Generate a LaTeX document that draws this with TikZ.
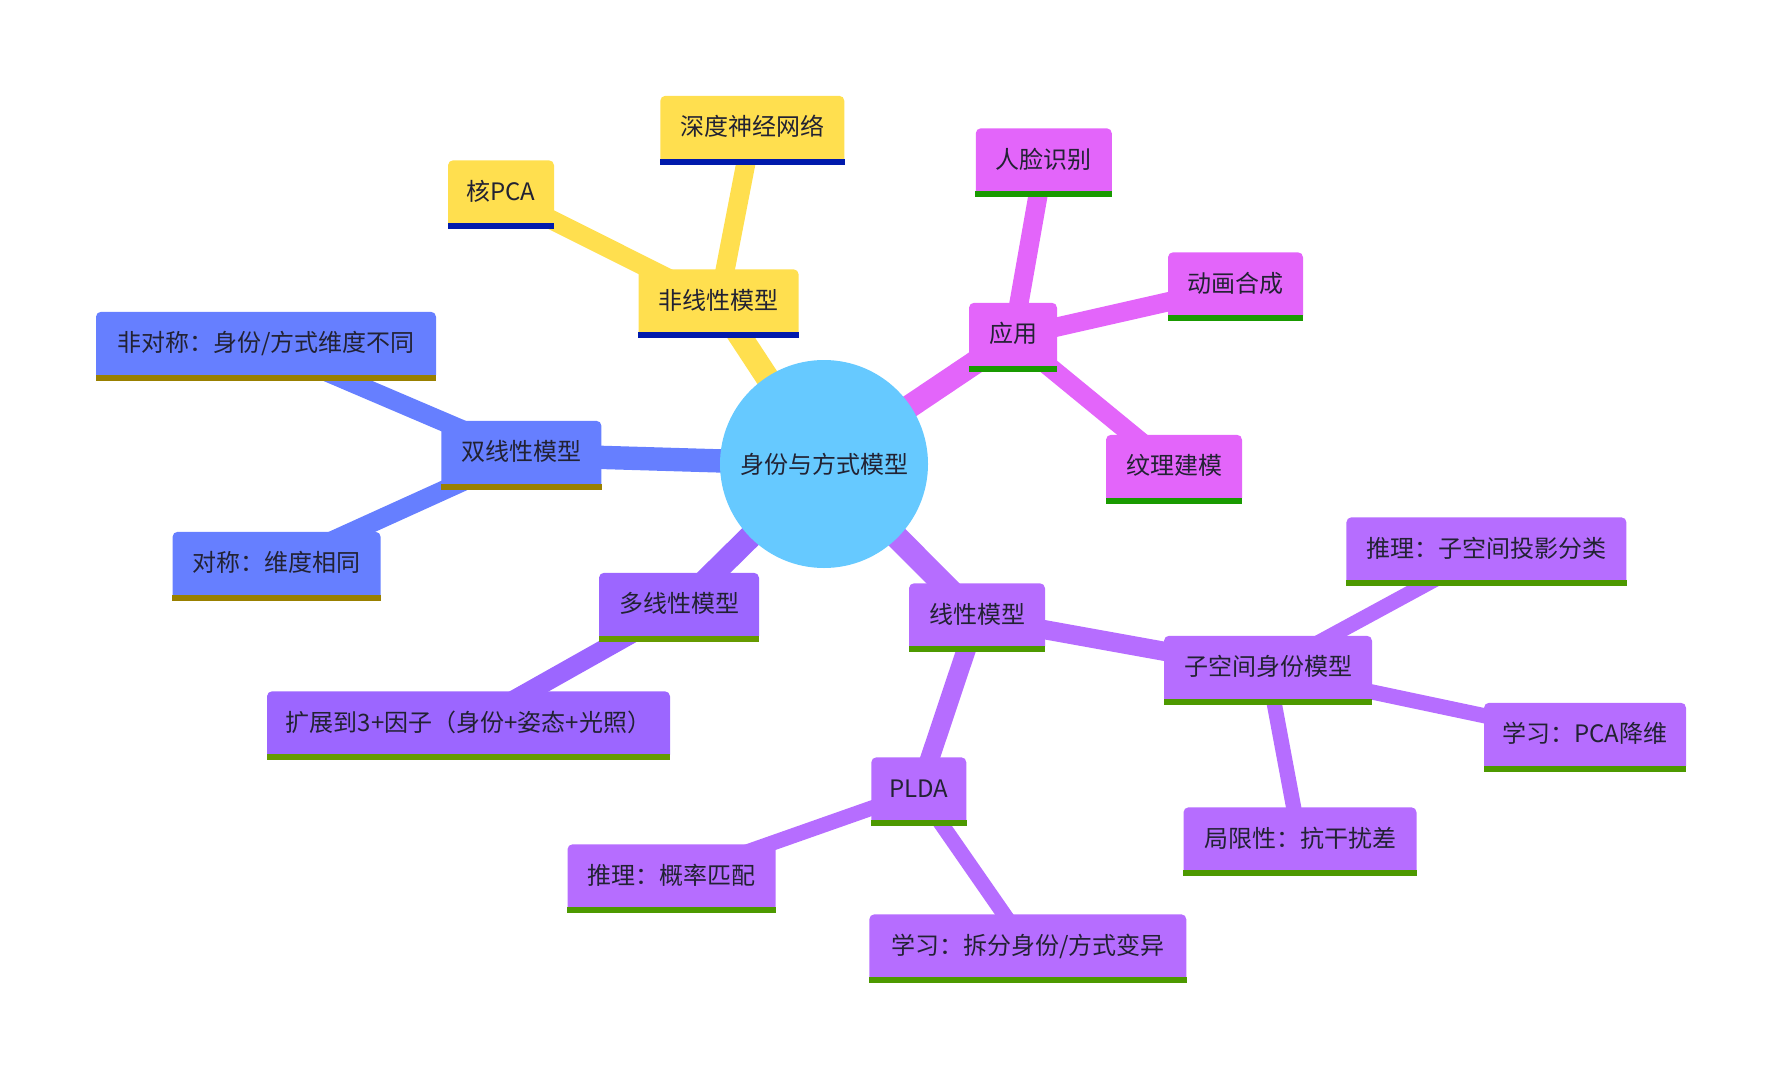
\documentclass[tikz,border=0pt]{standalone}
\usepackage{fontspec}
\newfontfamily\cjk{Noto Sans CJK SC}
\usetikzlibrary{backgrounds}

% branch colours: fill and bottom bar
\definecolor{rootfill}{HTML}{66C9FF}
\definecolor{ylwfill}{HTML}{FFDF4F}
\definecolor{ylwbar}{HTML}{001AAC}
\definecolor{magfill}{HTML}{E365FA}
\definecolor{magbar}{HTML}{199A00}
\definecolor{bluefill}{HTML}{667FFF}
\definecolor{bluebar}{HTML}{998000}
\definecolor{violfill}{HTML}{9C66FF}
\definecolor{violbar}{HTML}{669A00}
\definecolor{purpfill}{HTML}{B66DFF}
\definecolor{purpbar}{HTML}{4D9900}
\definecolor{ink}{HTML}{222233}

\tikzset{
  idea/.style={rectangle, rounded corners=2.5pt, inner xsep=0pt,
    inner ysep=10.35pt, minimum height=34.2pt, text height=9.5pt,
    text depth=4pt, text=ink, font=\cjk\fontsize{12}{14}\selectfont},
  lvl1/.style={line width=11.7pt},
  lvl2/.style={line width=9.6pt},
  lvl3/.style={line width=7.6pt}
}

% name, position, width (pt), branch, text
\newcommand\mmnode[5]{%
  \node[idea, fill=#4fill, minimum width=#3pt] (#1) at (#2) {#5};
  \fill[#4bar] (#1.south west) rectangle ([yshift=3pt]#1.south east);}

\begin{document}
\begin{tikzpicture}[x=0.5pt, y=-0.5pt]
  \useasboundingbox (0,0) rectangle (1782,1076);

  % centre
  \node[circle, fill=rootfill, minimum size=104pt, inner sep=0pt, text=ink,
    font=\cjk\fontsize{12}{14}\selectfont] (root) at (824,464) {身份与方式模型};

  % nonlinear branch
  \mmnode{nl}{718.6,303.5}{80}{ylw}{非线性模型}
  \mmnode{deep}{752.3,130}{92}{ylw}{深度神经网络}
  \mmnode{kpca}{501,194.5}{53}{ylw}{核PCA}

  % applications
  \mmnode{app}{1013,337}{44}{mag}{应用}
  \mmnode{face}{1043.8,162.5}{68}{mag}{人脸识别}
  \mmnode{anim}{1235.5,286.5}{67.5}{mag}{动画合成}
  \mmnode{tex}{1174,469}{68}{mag}{纹理建模}

  % bilinear branch
  \mmnode{bil}{521.4,455}{80}{blue}{双线性模型}
  \mmnode{asym}{266,346}{170}{blue}{非对称：身份/方式维度不同}
  \mmnode{sym}{276.6,566}{104}{blue}{对称：维度相同}

  % multilinear branch
  \mmnode{multi}{679,607}{80}{viol}{多线性模型}
  \mmnode{ext}{468.5,725.5}{201.5}{viol}{扩展到3+因子（身份+姿态+光照）}

  % linear branch
  \mmnode{lin}{977,617.5}{68}{purp}{线性模型}
  \mmnode{sub}{1268,670}{104}{purp}{子空间身份模型}
  \mmnode{infsub}{1486.4,551.5}{140}{purp}{推理：子空间投影分类}
  \mmnode{learnpca}{1585,737}{101}{purp}{学习：PCA降维}
  \mmnode{limit}{1300,841.5}{116.5}{purp}{局限性：抗干扰差}
  \mmnode{plda}{918.8,791.5}{47.5}{purp}{PLDA}
  \mmnode{infp}{671.5,878.5}{104}{purp}{推理：概率匹配}
  \mmnode{learnp}{1027.8,948.5}{158.5}{purp}{学习：拆分身份/方式变异}

  % branches behind the nodes
  \begin{scope}[on background layer]
    \draw[lvl1, ylwfill] (root.center) -- (nl.center);
    \draw[lvl2, ylwfill] (nl.center) -- (deep.center);
    \draw[lvl2, ylwfill] (nl.center) -- (kpca.center);

    \draw[lvl1, magfill] (root.center) -- (app.center);
    \draw[lvl2, magfill] (app.center) -- (face.center);
    \draw[lvl2, magfill] (app.center) -- (anim.center);
    \draw[lvl2, magfill] (app.center) -- (tex.center);

    \draw[lvl1, bluefill] (root.center) -- (bil.center);
    \draw[lvl2, bluefill] (bil.center) -- (asym.center);
    \draw[lvl2, bluefill] (bil.center) -- (sym.center);

    \draw[lvl1, violfill] (root.center) -- (multi.center);
    \draw[lvl2, violfill] (multi.center) -- (ext.center);

    \draw[lvl1, purpfill] (root.center) -- (lin.center);
    \draw[lvl2, purpfill] (lin.center) -- (sub.center);
    \draw[lvl2, purpfill] (lin.center) -- (plda.center);
    \draw[lvl3, purpfill] (sub.center) -- (infsub.center);
    \draw[lvl3, purpfill] (sub.center) -- (learnpca.center);
    \draw[lvl3, purpfill] (sub.center) -- (limit.center);
    \draw[lvl3, purpfill] (plda.center) -- (infp.center);
    \draw[lvl3, purpfill] (plda.center) -- (learnp.center);
  \end{scope}
\end{tikzpicture}
\end{document}
